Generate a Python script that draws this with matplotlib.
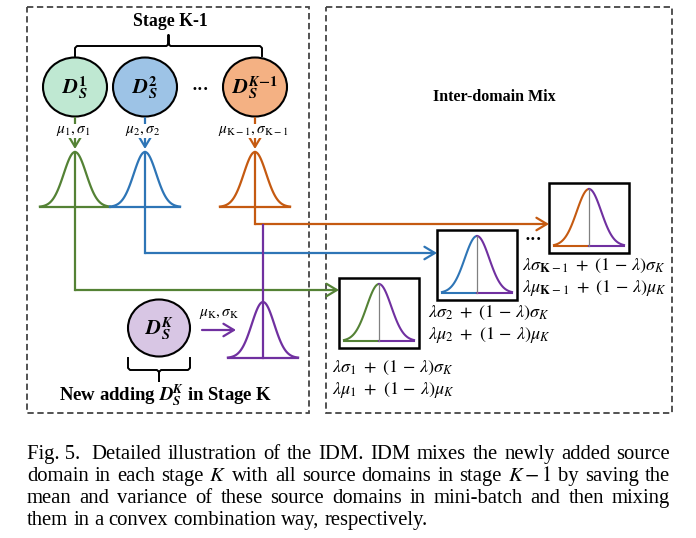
import numpy as np
import matplotlib
matplotlib.use("Agg")
import matplotlib.pyplot as plt
from matplotlib.patches import Ellipse, Rectangle, FancyArrowPatch

plt.rcParams['font.family'] = ['Liberation Serif', 'DejaVu Serif']
plt.rcParams['mathtext.fontset'] = 'stix'

# ---- diagram content ----
STAGE_LABELS = [r'$\mathbfit{D}_{\mathbfit{S}}^{\mathbf{1}}$',
                r'$\mathbfit{D}_{\mathbfit{S}}^{\mathbf{2}}$',
                r'$\mathbfit{D}_{\mathbfit{S}}^{\mathbfit{K}\mathbf{-1}}$']
STAT_LABELS = [r'$\mu_1, \sigma_1$', r'$\mu_2, \sigma_2$',
               r'$\mu_{\mathrm{K}-1}, \sigma_{\mathrm{K}-1}$']
NEW_LABEL = r'$\mathbfit{D}_{\mathbfit{S}}^{\mathbfit{K}}$'
NEW_STAT = r'$\mu_{\mathrm{K}}, \sigma_{\mathrm{K}}$'
SIGMA_MIX = [r'$\lambda\sigma_1\ +\ (1\,-\,\lambda)\sigma_K$',
             r'$\lambda\sigma_2\ +\ (1\,-\,\lambda)\sigma_K$',
             r'$\lambda\sigma_{\mathbf{K}-1}\ +\ (1\,-\,\lambda)\sigma_K$']
MU_MIX = [r'$\lambda\mu_1\ +\ (1\,-\,\lambda)\mu_K$',
          r'$\lambda\mu_2\ +\ (1\,-\,\lambda)\mu_K$',
          r'$\lambda\mu_{\mathbf{K}-1}\ +\ (1\,-\,\lambda)\mu_K$']
CAPTION = [
    "Fig. 5. Detailed illustration of the IDM. IDM mixes the newly added source",
    "domain in each stage $K$ with all source domains in stage $K-1$ by saving the",
    "mean and variance of these source domains in mini-batch and then mixing",
    "them in a convex combination way, respectively.",
]

LINE_COLORS = ['#548235', '#2E75B6', '#C55A11']
FILL_COLORS = ['#BFE8D2', '#9DC3E6', '#F4B183']
PURPLE = '#7030A0'
PURPLE_FILL = '#D8C6E4'

# layout (pixel coordinates, y downward)
NODE_X = [75, 145, 255]
NODE_Y = 87
ROUTE_Y = [290, 253, 224]
BOX_XY = [(339, 278), (437, 230), (549, 183)]
BOX_W, BOX_H = 80, 70
MIX_TEXT_X = [332, 428, 522]
SIGMA_Y = [368, 313, 266]
MU_Y = [390, 335, 288]

fig = plt.figure(figsize=(6.96, 5.38), dpi=100)
ax = fig.add_axes([0, 0, 1, 1])
ax.set_xlim(0, 696)
ax.set_ylim(538, 0)
ax.axis('off')


def bell(cx, base, half, height, t0=-1, t1=1, sig=0.32):
    t = np.linspace(t0, t1, 120)
    return cx + t * half, base - height * np.exp(-t ** 2 / (2 * sig ** 2))


def arrow(p0, p1, color, lw=1.6):
    ax.add_patch(FancyArrowPatch(p0, p1, arrowstyle='->,head_length=5,head_width=3',
                                 color=color, lw=lw, shrinkA=0, shrinkB=0,
                                 mutation_scale=1.5))


def brace(x0, x1, y_end, y_bar, y_tip):
    xm = (x0 + x1) / 2
    s = np.sign(y_bar - y_end) * 2
    xs = [x0, x0, x0 + 2, xm - 2, xm, xm, xm, xm + 2, x1 - 2, x1, x1]
    ys = [y_end, y_bar - s, y_bar, y_bar, y_bar + s, y_tip, y_bar + s, y_bar, y_bar, y_bar - s, y_end]
    ax.plot(xs, ys, color='black', lw=1.4, solid_joinstyle='round')


# dashed frames
for x0, x1 in [(27, 309), (326, 672)]:
    ax.add_patch(Rectangle((x0, 7), x1 - x0, 406, fill=False, ec='#444444',
                           lw=1.3, ls=(0, (3.5, 2))))

ax.text(170, 21, 'Stage K-1', ha='center', va='center', fontsize=12.8,
        fontweight='bold')
brace(75, 262, 56, 46, 35)

# stage K-1 nodes
for i in range(3):
    cx = NODE_X[i]
    c = LINE_COLORS[i]
    ax.add_patch(Ellipse((cx, NODE_Y), 64, 59, fc=FILL_COLORS[i], ec='black', lw=1.5))
    ax.text(cx, NODE_Y + 1, STAGE_LABELS[i], ha='center', va='center', fontsize=15)
    arrow((cx, 118), (cx, 149), c)
    ax.text(cx - 2, 131, STAT_LABELS[i], ha='center', va='center', fontsize=11,
            bbox=dict(fc='white', ec='none', pad=0.3))
    gx, gy = bell(cx, 207, 35, 55)
    ax.plot(gx, gy, color=c, lw=1.6)
    ax.plot([cx - 35, cx + 35], [207, 207], color=c, lw=1.6)
    # center line continues as the route to the mix box
    ax.plot([cx, cx], [152, ROUTE_Y[i]], color=c, lw=1.6)
    bx, by = BOX_XY[i]
    arrow((cx, ROUTE_Y[i]), (bx, ROUTE_Y[i]), c)

ax.text(200, 90, '···', ha='center', va='center', fontsize=13, fontweight='bold')

# new domain at stage K
NX, NY = 159, 328
ax.add_patch(Ellipse((NX, NY), 62, 57, fc=PURPLE_FILL, ec='black', lw=1.5))
ax.text(NX, NY + 1, NEW_LABEL, ha='center', va='center', fontsize=15)
ax.text(219, 314, NEW_STAT, ha='center', va='center', fontsize=11)
arrow((202, 330), (236, 330), PURPLE)
gx, gy = bell(263, 358, 35, 56)
ax.plot(gx, gy, color=PURPLE, lw=1.6)
ax.plot([228, 298], [358, 358], color=PURPLE, lw=1.6)
ax.plot([263, 263], [ROUTE_Y[2] + 1, 358], color=PURPLE, lw=1.6)
brace(128, 190, 358, 370, 381)
ax.text(166, 395, r'New adding $\mathbfit{D}_{\mathbfit{S}}^{\mathbfit{K}}$ in Stage K',
        ha='center', va='center', fontsize=13.5, fontweight='bold')

# inter-domain mix
ax.text(494, 97, 'Inter-domain Mix', ha='center', va='center', fontsize=11.5,
        fontweight='bold')
for i in range(3):
    bx, by = BOX_XY[i]
    ax.add_patch(Rectangle((bx, by), BOX_W, BOX_H, fill=False, ec='black', lw=1.8))
    cx = bx + 40
    base = by + 63
    lx, ly = bell(cx, base, 35, 57, -1, 0, 0.35)
    rx, ry = bell(cx, base, 35, 57, 0, 1, 0.35)
    ax.plot(lx, ly, color=LINE_COLORS[i], lw=1.5)
    ax.plot(rx, ry, color=PURPLE, lw=1.5)
    ax.plot([cx - 35, cx], [base, base], color=LINE_COLORS[i], lw=1.5)
    ax.plot([cx, cx + 35], [base, base], color=PURPLE, lw=1.5)
    ax.plot([cx, cx], [by + 6, base], color='#808080', lw=0.9)
    ax.text(MIX_TEXT_X[i], SIGMA_Y[i], SIGMA_MIX[i], ha='left', va='center', fontsize=13)
    ax.text(MIX_TEXT_X[i], MU_Y[i], MU_MIX[i], ha='left', va='center', fontsize=13)
ax.text(533, 240, '···', ha='center', va='center', fontsize=13, fontweight='bold')

# caption, justified like the paper
renderer = fig.canvas.get_renderer()
inv = ax.transData.inverted()
for k, line in enumerate(CAPTION):
    y = 459 + 22 * k
    words = line.split(' ')
    if k == 0:
        # "Fig. 5." is one token, followed by a double space
        words = [words[0] + ' ' + words[1]] + words[2:]
    texts = [ax.text(0, y, w, ha='left', va='baseline', fontsize=14.9) for w in words]
    widths = []
    for t in texts:
        bb = t.get_window_extent(renderer=renderer)
        a = inv.transform([[bb.x0, 0], [bb.x1, 0]])
        widths.append(a[1, 0] - a[0, 0])
    extra = 5 if k == 0 else 0
    if k < len(CAPTION) - 1:
        gap = (670 - 27 - extra - sum(widths)) / (len(words) - 1)
    else:
        gap = 5
    x = 27
    for j, (t, w) in enumerate(zip(texts, widths)):
        t.set_x(x)
        x += w + gap + (extra if j == 0 else 0)

fig.savefig('out.png', dpi=100)
